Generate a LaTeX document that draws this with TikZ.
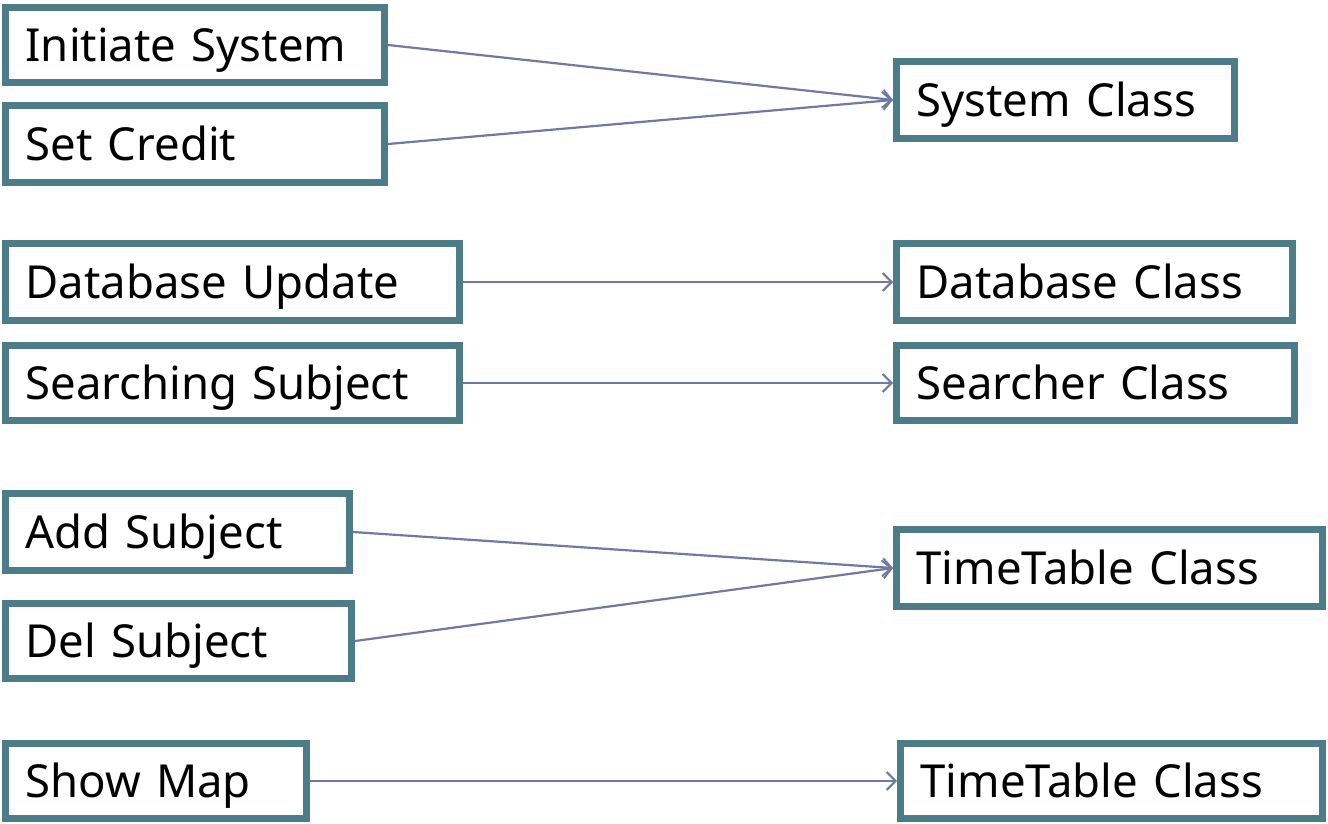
\documentclass[tikz,border=0pt]{standalone}
\usepackage{fontspec}
\setmainfont{Noto Sans}
\usetikzlibrary{arrows.meta}
\definecolor{boxc}{HTML}{4C7C87}
\definecolor{arrc}{HTML}{6F7AA2}
\tikzset{
  box/.style={draw=boxc, line width=7pt, rectangle, anchor=north west, inner xsep=20pt, inner ysep=0pt, outer sep=3.5pt, align=left, font=\fontsize{45.5}{48}\selectfont, fill=white, text height=33pt, text depth=0pt},
  conn/.style={draw=arrc, line width=2.2pt, -{Straight Barb[length=9pt,width=18pt,line width=2pt]}}
}
\newcommand{\mybox}[6]{% name, x1, y1, x2, y2, text
  \node[box, minimum width={#4-#2-7}, minimum height={#5-#3-7}, text width={#4-#2-7-40}] (#1) at (#2,#3) {#6};
}
\begin{document}
\begin{tikzpicture}[x=1pt,y=-1pt]
\useasboundingbox (0,0) rectangle (1328,824);
\mybox{init}{2}{4}{388}{86}{Initiate System}
\mybox{setc}{2}{102}{388}{186}{Set Credit}
\mybox{sysc}{893}{58}{1238}{142}{System Class}
\mybox{dbu}{2}{240}{463}{324}{Database Update}
\mybox{dbc}{893}{240}{1296}{324}{Database Class}
\mybox{srch}{2}{342}{463}{424}{Searching Subject}
\mybox{srcc}{893}{342}{1298}{424}{Searcher Class}
\mybox{adds}{2}{490}{353}{574}{Add Subject}
\mybox{dels}{2}{600}{355}{682}{Del Subject}
\mybox{ttc}{893}{526}{1326}{610}{TimeTable Class}
\mybox{map}{2}{740}{310}{822}{Show Map}
\mybox{ttc2}{897}{740}{1326}{822}{TimeTable Class}
\draw[conn] (init.east) -- (sysc.west);
\draw[conn] (setc.east) -- (sysc.west);
\draw[conn] (dbu.east) -- (dbc.west);
\draw[conn] (srch.east) -- (srcc.west);
\draw[conn] (adds.east) -- (ttc.west);
\draw[conn] (dels.east) -- (ttc.west);
\draw[conn] (map.east) -- (ttc2.west);
\end{tikzpicture}
\end{document}
